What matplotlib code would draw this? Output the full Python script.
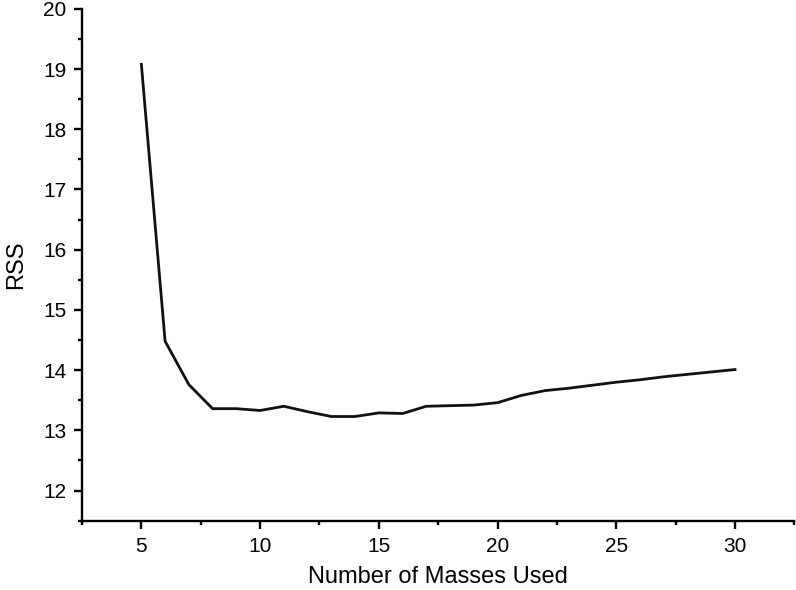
import numpy as np
import matplotlib.pyplot as plt
from matplotlib.ticker import MultipleLocator

plt.rcParams.update({
    "font.family": ["Liberation Sans", "DejaVu Sans"],
    "font.size": 15,
})

n_masses = [5, 6, 7, 8, 9, 10, 11, 12, 13, 14, 15, 16, 17, 18, 19, 20,
            21, 22, 23, 24, 25, 26, 27, 28, 29, 30]
rss = [19.08, 14.48, 13.76, 13.36, 13.36, 13.33, 13.40, 13.31, 13.23, 13.23,
       13.29, 13.28, 13.40, 13.41, 13.42, 13.46, 13.58, 13.66, 13.70, 13.75,
       13.80, 13.84, 13.89, 13.93, 13.97, 14.01]

fig = plt.figure(figsize=(7.96, 5.9), dpi=100)
ax = fig.add_axes([0.103, 0.1175, 0.895, 0.8675])

ax.plot(n_masses, rss, color="#111111", linewidth=2.0)

ax.set_xlim(2.5, 32.5)
ax.set_ylim(11.5, 20)
ax.xaxis.set_major_locator(MultipleLocator(5))
ax.xaxis.set_minor_locator(MultipleLocator(2.5))
ax.yaxis.set_major_locator(MultipleLocator(1))
ax.yaxis.set_minor_locator(MultipleLocator(0.5))

for s in ["top", "right"]:
    ax.spines[s].set_visible(False)
for s in ["left", "bottom"]:
    ax.spines[s].set_linewidth(1.7)

ax.tick_params(which="major", direction="out", length=6, width=1.7, labelsize=15)
ax.tick_params(which="minor", direction="out", length=3, width=1.7)
ax.tick_params(axis="x", which="major", pad=6)
ax.tick_params(axis="y", which="major", pad=5)

ax.set_xlabel("Number of Masses Used", fontsize=17, labelpad=7)
ax.set_ylabel("RSS", fontsize=17, labelpad=12)

fig.savefig("out.png", dpi=100)
